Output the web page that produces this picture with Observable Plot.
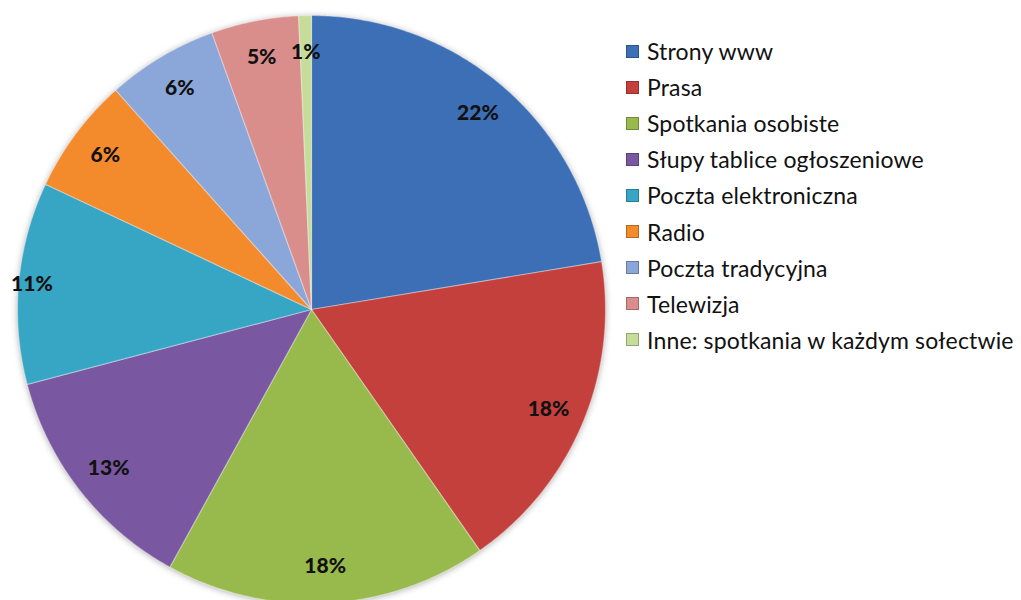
<!DOCTYPE html>
<html>
<head>
<meta charset="utf-8">
<script src="https://cdn.jsdelivr.net/npm/d3@7"></script>
<script src="https://cdn.jsdelivr.net/npm/@observablehq/plot@0.6"></script>
<style>
  html, body { margin: 0; padding: 0; background: #fff; }
  #wrap { position: relative; width: 1021px; height: 600px; overflow: hidden; }
  #chart { position: absolute; left: 0; top: 0; }
  #chart svg g[aria-label="line"] { filter: drop-shadow(0px 1px 3px rgba(0,0,0,0.30)); }
  #legend { position: absolute; left: 626px; top: 33px; font-family: Lato, "Noto Sans", sans-serif; font-size: 23px; letter-spacing: 0.15px; color: #111; }
  .item { height: 36.1px; display: flex; align-items: center; white-space: nowrap; }
  .sw { width: 13px; height: 13px; margin-right: 8px; box-sizing: border-box; border: 1px solid rgba(0,0,0,0.25); }
</style>
</head>
<body>
<div id="wrap">
  <div id="chart"></div>
  <div id="legend"></div>
</div>
<script>
const categories = [
  "Strony www",
  "Prasa",
  "Spotkania osobiste",
  "Słupy tablice ogłoszeniowe",
  "Poczta elektroniczna",
  "Radio",
  "Poczta tradycyjna",
  "Telewizja",
  "Inne: spotkania w każdym sołectwie"
];
const values = [22.4, 17.9, 17.7, 12.9, 11.1, 6.4, 6.1, 4.8, 0.7];
const labels = ["22%", "18%", "18%", "13%", "11%", "6%", "6%", "5%", "1%"];
const colors = ["#3D6FB6", "#C4403C", "#98BA4D", "#7957A1", "#37A6C5", "#F38A2C", "#8BA6D8", "#DA8E8C", "#C6DD9A"];

const pie = d3.pie().sort(null).value(d => d.value)(categories.map((c, i) => ({cat: c, value: values[i], label: labels[i]})));

// polygon points for each slice (angles clockwise from top)
const pts = [];
for (const s of pie) {
  pts.push({cat: s.data.cat, x: 0, y: 0});
  const n = Math.max(2, Math.ceil((s.endAngle - s.startAngle) / (Math.PI / 360)));
  for (let k = 0; k <= n; k++) {
    const a = s.startAngle + (s.endAngle - s.startAngle) * k / n;
    pts.push({cat: s.data.cat, x: Math.sin(a), y: Math.cos(a)});
  }
}

const labelR = {"Poczta elektroniczna": 0.955};
const labelPts = pie.map(s => {
  const a = (s.startAngle + s.endAngle) / 2;
  const r = labelR[s.data.cat] ?? 0.875;
  return {label: s.data.label, x: r * Math.sin(a), y: r * Math.cos(a)};
});

const chart = Plot.plot({
  width: 1021,
  height: 600,
  axis: null,
  x: {domain: [-1, 1], range: [17, 605]},
  y: {domain: [-1, 1], range: [603, 15]},
  color: {domain: categories, range: colors},
  marks: [
    Plot.line(pts, {x: "x", y: "y", z: "cat", fill: "cat", stroke: "white", strokeOpacity: 0.35, strokeWidth: 1.2, curve: "linear-closed"}),
    Plot.text(labelPts, {x: "x", y: "y", text: "label", fill: "#111", fontSize: 21, fontWeight: 900, fontFamily: "Lato, 'Noto Sans', sans-serif"})
  ]
});
document.getElementById("chart").appendChild(chart);

const legend = d3.select("#legend");
categories.forEach((c, i) => {
  const it = legend.append("div").attr("class", "item");
  it.append("div").attr("class", "sw").style("background", colors[i]);
  it.append("span").text(c);
});
</script>
</body>
</html>
